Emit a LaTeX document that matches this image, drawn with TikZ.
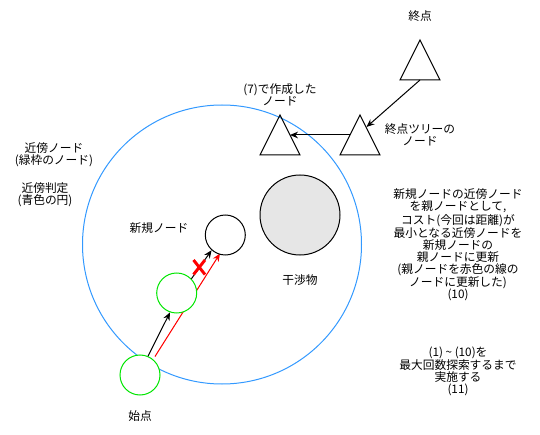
\documentclass[tikz,border=0pt]{standalone}
\usepackage{fontspec}
\setmainfont{Noto Sans CJK JP}
\usetikzlibrary{arrows.meta}
\definecolor{bluec}{RGB}{51,153,255}
\definecolor{greenc}{RGB}{0,230,0}
\definecolor{obst}{RGB}{230,230,230}
\definecolor{redc}{RGB}{255,0,0}
\begin{document}
\begin{tikzpicture}[x=0.75pt,y=-0.75pt,line width=0.75pt,
  txt/.style={align=center,font=\fontsize{8.8pt}{9pt}\selectfont,inner sep=0pt},
  rnode/.style={circle,draw=black,fill=white,minimum size=30pt,inner sep=0pt},
  gnode/.style={circle,draw=greenc,fill=white,minimum size=30pt,inner sep=0pt},
  tri/.style={draw=black,line width=0.75pt},
  arr/.style={-{Stealth[length=6pt,width=5pt]}},
  redarr/.style={arr,draw=redc,fill=redc}]
\useasboundingbox (0,0) rectangle (540,435);
% neighbourhood circle
\node[circle,draw=bluec,minimum size=209.25pt,inner sep=0pt] (near) at (222,244.5) {};
% obstacle
\node[circle,draw=black,fill=obst,minimum size=60pt,inner sep=0pt] (obs) at (300,215) {};
% triangles
\draw[tri] (280,115) -- (300,155) -- (260,155) -- cycle;
\draw[tri] (360,115) -- (380,155) -- (340,155) -- cycle;
\draw[tri] (420,40) -- (440,80) -- (400,80) -- cycle;
\coordinate (t7r) at (290,135);
\coordinate (tgl) at (350,135);
\coordinate (tgr) at (366.5,127);
\coordinate (goalb) at (420,80);
\draw[arr] (tgl) -- (t7r);
\draw[arr] (goalb) -- (tgr);
% red path behind middle node
\coordinate (rs) at (155,356.5);
\coordinate (re) at (220,253.5);
\draw[redarr] (rs) -- (re);
% nodes
\node[gnode] (start) at (140,375) {};
\node[gnode] (mid) at (176.7,293) {};
\node[rnode] (new) at (225.3,235) {};
\draw[arr] (start.67) -- (mid.251);
\draw[arr] (mid.44) -- (new.228);
% red cross
\draw[redc,line width=2.2pt] (193.5,260) -- (205,274.5) (205,260) -- (193.5,274.5);
% texts
\node[txt] (lgoal) at (420,16) {終点};
\node[txt] (l7) at (280,94.5) {(7)で作成した\\ノード};
\node[txt] (lgt) at (420,135) {終点ツリーの\\ノード};
\node[txt] (lnear) at (54,154.5) {近傍ノード\\(緑枠のノード)};
\node[txt] (ljudge) at (45,194.5) {近傍判定\\(青色の円)};
\node[txt] (lnew) at (159,228) {新規ノード};
\node[txt] (lobs) at (300,280) {干渉物};
\node[txt] (lstart) at (140,416) {始点};
\node[txt] (l10) at (458,245) {新規ノードの近傍ノード\\を親ノードとして,\\コスト(今回は距離)が\\最小となる近傍ノードを\\新規ノードの\\親ノードに更新\\(親ノードを赤色の線の\\ノードに更新した)\\(10)};
\node[txt] (l11) at (458,371.5) {(1) \textasciitilde{} (10)を\\最大回数探索するまで\\実施する\\(11)};
\end{tikzpicture}
\end{document}
